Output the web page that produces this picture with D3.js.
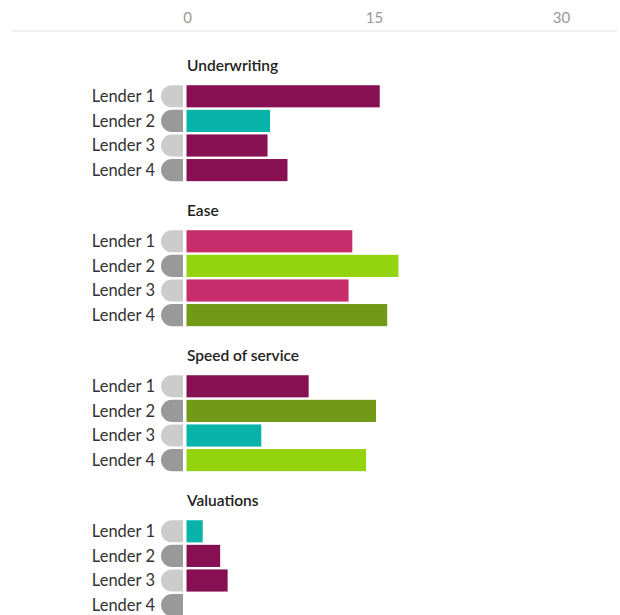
<!DOCTYPE html>
<html>
<head>
<meta charset="utf-8">
<script src="https://cdn.jsdelivr.net/npm/d3@7"></script>
<style>
  body { margin: 0; background: #fff; }
  text { font-family: Lato, "Open Sans", sans-serif; }
</style>
</head>
<body>
<div id="chart"></div>
<script>
// categories and values
const groups = ["Underwriting", "Ease", "Speed of service", "Valuations"];
const lenders = ["Lender 1", "Lender 2", "Lender 3", "Lender 4"];
const ticks = [0, 15, 30];

const underwriting = [15.5, 6.7, 6.5, 8.1];
const ease = [13.3, 17.0, 13.0, 16.1];
const speed = [9.8, 15.2, 6.0, 14.4];
const valuations = [1.3, 2.7, 3.3, 0];

// colour class of each bar
const underwritingCls = ["a", "b", "a", "a"];
const easeCls = ["c", "d", "c", "e"];
const speedCls = ["a", "e", "b", "d"];
const valuationsCls = ["b", "a", "a", "a"];

const seriesValues = [underwriting, ease, speed, valuations];
const seriesCls = [underwritingCls, easeCls, speedCls, valuationsCls];

function drawChart() {
  const width = 620;
  const height = 615;

  const color = d3.scaleOrdinal()
    .domain(["a", "b", "c", "d", "e"])
    .range(["#871052", "#08b4a9", "#c72c6b", "#93d40f", "#739a16"]);

  const x = d3.scaleLinear().domain([0, 30]).range([187, 561]);

  const svg = d3.select("#chart")
    .append("svg")
    .attr("width", width)
    .attr("height", height)
    .attr("viewBox", [0, 0, width, height]);

  // top axis
  const axis = svg.append("g")
    .attr("transform", "translate(0,23)")
    .call(d3.axisTop(x).tickValues(ticks).tickSize(0).tickPadding(0));
  axis.select(".domain").remove();
  axis.selectAll("text")
    .attr("fill", "#999")
    .style("font-size", "15px")
    .style("font-family", "Lato, sans-serif");

  svg.append("line")
    .attr("x1", 12).attr("x2", 617)
    .attr("y1", 31).attr("y2", 31)
    .attr("stroke", "#efefef")
    .attr("stroke-width", 2);

  const step = 24.6;
  const groupGap = 145;

  groups.forEach((name, gi) => {
    const top = 84 + gi * groupGap;
    const y = d3.scaleBand()
      .domain(lenders)
      .range([top, top + step * lenders.length])
      .paddingInner(0.1)
      .paddingOuter(0.05);

    const g = svg.append("g");

    g.append("text")
      .attr("x", 187)
      .attr("y", top - 18)
      .attr("dy", "0.35em")
      .attr("fill", "#222")
      .style("font-size", "15.5px")
      .style("font-weight", 600)
      .text(name);

    const rows = lenders.map((l, i) => ({
      lender: l,
      value: seriesValues[gi][i],
      cls: seriesCls[gi][i],
      i: i
    }));

    // lender labels
    g.selectAll(".lbl")
      .data(rows)
      .join("text")
      .attr("class", "lbl")
      .attr("x", 155)
      .attr("y", (d) => y(d.lender) + y.bandwidth() / 2)
      .attr("dy", "0.36em")
      .attr("text-anchor", "end")
      .attr("fill", "#333")
      .style("font-size", "16.5px")
      .text((d) => d.lender);

    // rounded grey tabs
    g.selectAll(".tab")
      .data(rows)
      .join("path")
      .attr("class", "tab")
      .attr("fill", (d) => (d.i % 2 === 0 ? "#cccccc" : "#999999"))
      .attr("d", (d) => {
        const y0 = y(d.lender);
        const h = y.bandwidth();
        const r = h / 2;
        const right = 183;
        const left = 161;
        return `M${right},${y0} H${left + r} A${r},${r} 0 0 0 ${left + r},${y0 + h} H${right} Z`;
      });

    // bars
    g.selectAll(".bar")
      .data(rows)
      .join("rect")
      .attr("class", "bar")
      .attr("x", x(0) - 0.5)
      .attr("y", (d) => y(d.lender))
      .attr("width", (d) => Math.max(0, x(d.value) - x(0)))
      .attr("height", y.bandwidth())
      .attr("fill", (d) => color(d.cls));
  });

  return svg.node();
}

window.onload = function () {
  drawChart();
};
</script>
</body>
</html>
